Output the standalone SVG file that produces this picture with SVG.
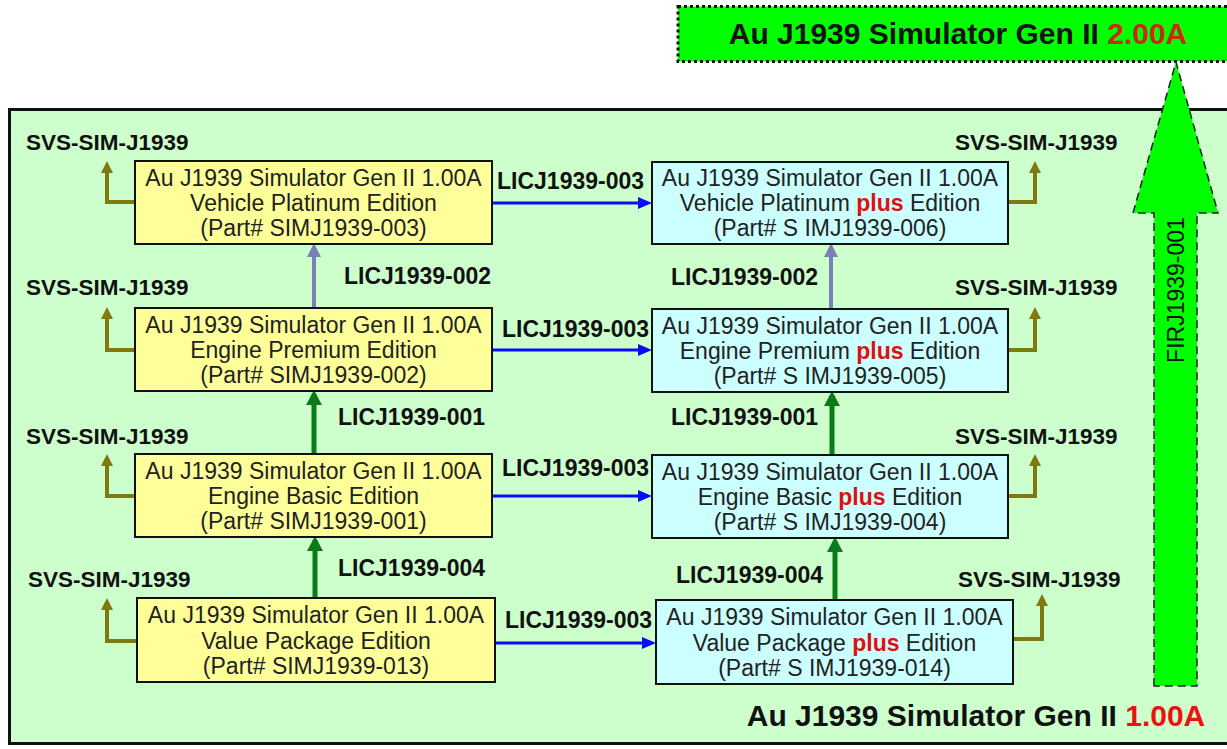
<svg xmlns="http://www.w3.org/2000/svg" width="1227" height="749" viewBox="0 0 1227 749">
<style>
.box{stroke:#111;stroke-width:2}
.y{fill:#ffff99}
.c{fill:#ccffff}
.bt{font-family:"Liberation Sans",Arial,sans-serif;font-size:23px;fill:#222;text-anchor:middle}
.plus{fill:#e01010;font-weight:bold}
.lab{font-family:"Liberation Sans",Arial,sans-serif;font-size:23px;font-weight:bold;fill:#111}
.svs{font-family:"Liberation Sans",Arial,sans-serif;font-size:22.5px;font-weight:bold;fill:#111}
.big{font-family:"Liberation Sans",Arial,sans-serif;font-size:30px;font-weight:bold;fill:#111;text-anchor:middle}
.blue{stroke:#0a0aff;stroke-width:3;fill:none;marker-end:url(#mBlue)}
.gray{stroke:#7b7fb8;stroke-width:4;fill:none;marker-end:url(#mGray)}
.green{stroke:#0b7a18;stroke-width:5;fill:none;marker-end:url(#mGreen)}
.olive{stroke:#7f7a10;stroke-width:4;fill:none;marker-end:url(#mOlive)}
</style>
<defs>
<marker id="mBlue" markerUnits="userSpaceOnUse" markerWidth="14" markerHeight="12" refX="10" refY="6" orient="auto"><path d="M0,0 L14,6 L0,12 z" fill="#0a0aff"/></marker>
<marker id="mGray" markerUnits="userSpaceOnUse" markerWidth="14" markerHeight="14" refX="10" refY="7" orient="auto"><path d="M0,0 L14,7 L0,14 z" fill="#7b7fb8"/></marker>
<marker id="mGreen" markerUnits="userSpaceOnUse" markerWidth="15" markerHeight="16" refX="11" refY="8" orient="auto"><path d="M0,0 L15,8 L0,16 z" fill="#0b7a18"/></marker>
<marker id="mOlive" markerUnits="userSpaceOnUse" markerWidth="12" markerHeight="12" refX="8" refY="6" orient="auto"><path d="M0,0 L12,6 L0,12 z" fill="#7f7a10"/></marker>
</defs>
<rect width="1227" height="749" fill="#ffffff"/>
<g id="panel">
<rect x="9.5" y="109.5" width="1230" height="634" fill="#ccffcc" stroke="#111" stroke-width="3"/>
<text class="big" x="976" y="726">Au J1939 Simulator Gen II <tspan fill="#ee1111">1.00A</tspan></text>
</g>
<g id="gen2">
<rect x="678" y="6.5" width="570" height="55" fill="#00ff00" stroke="#111" stroke-width="3" stroke-dasharray="3,3"/>
<text class="big" x="958" y="44">Au J1939 Simulator Gen II <tspan fill="#cc2a10">2.00A</tspan></text>
</g>
<g id="connectors">
<polygon points="1154,686 1154,213 1133,213 1176,62 1218,213 1197,213 1197,686" fill="#00ff00" stroke="#222" stroke-width="1.5" stroke-dasharray="8,5"/>
<text x="1184" y="290" transform="rotate(-90 1184 290)" font-family="Liberation Sans, Arial, sans-serif" font-size="23" fill="#111" text-anchor="middle">FIRJ1939-001</text>
<path class="blue" d="M492,203 H648"/>
<path class="blue" d="M492,350 H648"/>
<path class="blue" d="M492,496 H648"/>
<path class="blue" d="M495,643 H652"/>
<path class="gray" d="M314,308 V247"/>
<path class="green" d="M314,454 V394"/>
<path class="green" d="M315,598 V540"/>
<path class="gray" d="M831,309 V247"/>
<path class="green" d="M832,455 V395"/>
<path class="green" d="M835,600 V541"/>
<path class="olive" d="M135,202 H107 V165"/>
<path class="olive" d="M135,350 H107 V311"/>
<path class="olive" d="M135,496 H107 V458"/>
<path class="olive" d="M137,641 H107 V602"/>
<path class="olive" d="M1008,202 H1035 V165"/>
<path class="olive" d="M1008,350 H1035 V311"/>
<path class="olive" d="M1008,496 H1035 V458"/>
<path class="olive" d="M1013,639 H1042 V598"/>
<text class="lab" x="497" y="189">LICJ1939-003</text>
<text class="lab" x="502" y="337">LICJ1939-003</text>
<text class="lab" x="502" y="476">LICJ1939-003</text>
<text class="lab" x="505" y="628">LICJ1939-003</text>
<text class="lab" x="344" y="284">LICJ1939-002</text>
<text class="lab" x="338" y="425">LICJ1939-001</text>
<text class="lab" x="338" y="576">LICJ1939-004</text>
<text class="lab" x="671" y="285">LICJ1939-002</text>
<text class="lab" x="671" y="425">LICJ1939-001</text>
<text class="lab" x="676" y="583">LICJ1939-004</text>
<text class="svs" x="26" y="150">SVS-SIM-J1939</text>
<text class="svs" x="26" y="295">SVS-SIM-J1939</text>
<text class="svs" x="26" y="444">SVS-SIM-J1939</text>
<text class="svs" x="28" y="587">SVS-SIM-J1939</text>
<text class="svs" x="955" y="150">SVS-SIM-J1939</text>
<text class="svs" x="955" y="295">SVS-SIM-J1939</text>
<text class="svs" x="955" y="444">SVS-SIM-J1939</text>
<text class="svs" x="958" y="587">SVS-SIM-J1939</text>
</g>
<g id="node-003">
<rect class="box y" x="135" y="161" width="357" height="83"/>
<text class="bt" x="313.5" y="186">Au J1939 Simulator Gen II 1.00A</text>
<text class="bt" x="313.5" y="211">Vehicle Platinum Edition</text>
<text class="bt" x="313.5" y="236">(Part# SIMJ1939-003)</text>
</g>
<g id="node-002">
<rect class="box y" x="135" y="308" width="357" height="83"/>
<text class="bt" x="313.5" y="333">Au J1939 Simulator Gen II 1.00A</text>
<text class="bt" x="313.5" y="358">Engine Premium Edition</text>
<text class="bt" x="313.5" y="383">(Part# SIMJ1939-002)</text>
</g>
<g id="node-001">
<rect class="box y" x="135" y="454" width="357" height="83"/>
<text class="bt" x="313.5" y="479">Au J1939 Simulator Gen II 1.00A</text>
<text class="bt" x="313.5" y="504">Engine Basic Edition</text>
<text class="bt" x="313.5" y="529">(Part# SIMJ1939-001)</text>
</g>
<g id="node-013">
<rect class="box y" x="137" y="598" width="358" height="84"/>
<text class="bt" x="316" y="623">Au J1939 Simulator Gen II 1.00A</text>
<text class="bt" x="316" y="649">Value Package Edition</text>
<text class="bt" x="316" y="674">(Part# SIMJ1939-013)</text>
</g>
<g id="node-006">
<rect class="box c" x="652" y="162" width="356" height="82"/>
<text class="bt" x="830" y="186">Au J1939 Simulator Gen II 1.00A</text>
<text class="bt" x="830" y="211">Vehicle Platinum <tspan class="plus">plus</tspan> Edition</text>
<text class="bt" x="830" y="236">(Part# S IMJ1939-006)</text>
</g>
<g id="node-005">
<rect class="box c" x="652" y="309" width="356" height="83"/>
<text class="bt" x="830" y="334">Au J1939 Simulator Gen II 1.00A</text>
<text class="bt" x="830" y="359">Engine Premium <tspan class="plus">plus</tspan> Edition</text>
<text class="bt" x="830" y="384">(Part# S IMJ1939-005)</text>
</g>
<g id="node-004">
<rect class="box c" x="652" y="455" width="356" height="83"/>
<text class="bt" x="830" y="480">Au J1939 Simulator Gen II 1.00A</text>
<text class="bt" x="830" y="505">Engine Basic <tspan class="plus">plus</tspan> Edition</text>
<text class="bt" x="830" y="530">(Part# S IMJ1939-004)</text>
</g>
<g id="node-014">
<rect class="box c" x="656" y="600" width="357" height="84"/>
<text class="bt" x="834.5" y="625">Au J1939 Simulator Gen II 1.00A</text>
<text class="bt" x="834.5" y="651">Value Package <tspan class="plus">plus</tspan> Edition</text>
<text class="bt" x="834.5" y="676">(Part# S IMJ1939-014)</text>
</g>
</svg>
